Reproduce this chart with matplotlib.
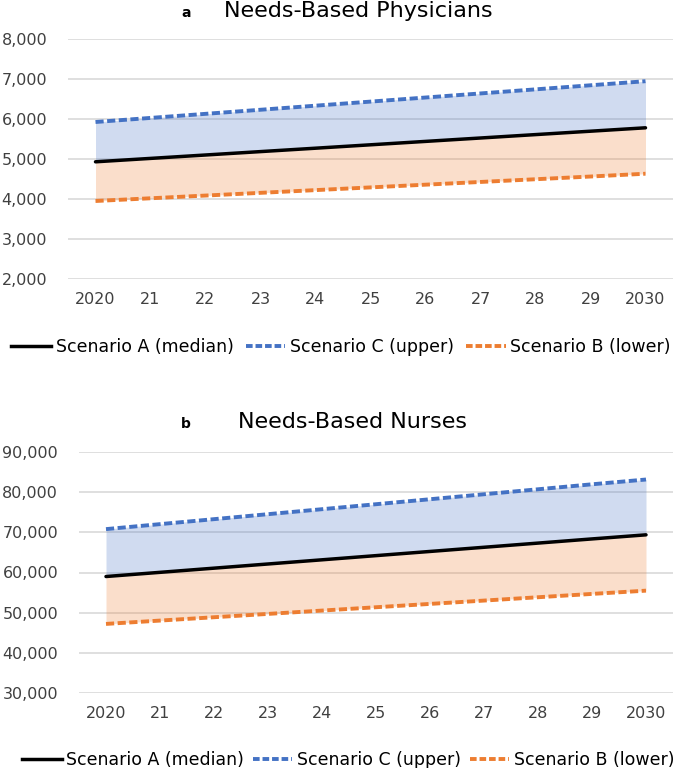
import numpy as np
import matplotlib
matplotlib.use('Agg')
import matplotlib.pyplot as plt
from matplotlib.lines import Line2D

years = [2020, 2021, 2022, 2023, 2024, 2025, 2026, 2027, 2028, 2029, 2030]
year_labels = ['2020', '21', '22', '23', '24', '25', '26', '27', '28', '29', '2030']

# needs-based physicians
phys_a = [4930, 5015, 5100, 5185, 5270, 5355, 5440, 5525, 5610, 5695, 5780]
phys_c = [5925, 6027, 6129, 6231, 6333, 6435, 6537, 6639, 6741, 6843, 6945]
phys_b = [3950, 4018, 4086, 4154, 4222, 4290, 4358, 4426, 4494, 4562, 4632]

# needs-based nurses
nurse_a = [59000, 60040, 61080, 62120, 63160, 64200, 65240, 66280, 67320, 68360, 69380]
nurse_c = [70800, 72040, 73280, 74520, 75760, 77000, 78240, 79480, 80720, 81960, 83150]
nurse_b = [47200, 48030, 48860, 49690, 50520, 51350, 52180, 53010, 53840, 54670, 55480]

BLUE = '#4472C4'
ORANGE = '#ED7D31'
TICK_COL = '#404040'

plt.rcParams['font.family'] = ['DejaVu Sans']


def conf_ax(ax, a, c, b, ylim, yticks):
    ax.fill_between(years, a, c, color=BLUE, alpha=0.25, lw=0, zorder=2)
    ax.fill_between(years, b, a, color=ORANGE, alpha=0.25, lw=0, zorder=2)
    ax.plot(years, c, color=BLUE, lw=2.8, dashes=(2.1, 0.9), zorder=3)
    ax.plot(years, b, color=ORANGE, lw=2.8, dashes=(2.1, 0.9), zorder=3)
    ax.plot(years, a, color='black', lw=2.5, zorder=4, solid_capstyle='round')
    ax.set_xlim(2019.5, 2030.5)
    ax.set_ylim(*ylim)
    ax.set_yticks(yticks)
    ax.set_yticklabels([f'{v:,}' for v in yticks])
    ax.set_xticks(years)
    ax.set_xticklabels(year_labels)
    ax.grid(axis='y', color='#D9D9D9', lw=1.2, zorder=1)
    ax.set_axisbelow(True)
    for s in ax.spines.values():
        s.set_visible(False)
    ax.tick_params(axis='x', length=0, pad=9, labelsize=11.5, labelcolor=TICK_COL)
    ax.tick_params(axis='y', length=0, pad=15, labelsize=11.5, labelcolor=TICK_COL)


fig = plt.figure(figsize=(6.85, 7.68), dpi=100)

ax_top = fig.add_axes([68 / 685, 1 - 279 / 768, 605 / 685, 240 / 768])
conf_ax(ax_top, phys_a, phys_c, phys_b, (2000, 8000), list(range(2000, 8001, 1000)))

ax_bot = fig.add_axes([79 / 685, 1 - 693 / 768, 594 / 685, 241 / 768])
conf_ax(ax_bot, nurse_a, nurse_c, nurse_b, (30000, 90000), list(range(30000, 90001, 10000)))

fig.text(186 / 685, 1 - 16.7 / 768, 'a', fontsize=10, fontweight='bold', ha='center', va='baseline')
fig.text(358 / 685, 1 - 16.7 / 768, 'Needs-Based Physicians', fontsize=16, ha='center', va='baseline')
fig.text(186 / 685, 1 - 428 / 768, 'b', fontsize=10, fontweight='bold', ha='center', va='baseline')
fig.text(353 / 685, 1 - 428 / 768, 'Needs-Based Nurses', fontsize=16, ha='center', va='baseline')

handles = [
    Line2D([], [], color='black', lw=2.5),
    Line2D([], [], color=BLUE, lw=2.8, dashes=(1.7, 0.75)),
    Line2D([], [], color=ORANGE, lw=2.8, dashes=(1.7, 0.75)),
]
labels = ['Scenario A (median)', 'Scenario C (upper)', 'Scenario B (lower)']

for xc, yc, cs in [(341 / 685, 1 - 347 / 768, 0.7), (348 / 685, 1 - 760 / 768, 0.5)]:
    fig.legend(handles, labels, loc='center', bbox_to_anchor=(xc, yc), ncol=3,
               frameon=False, fontsize=12.5, handlelength=2.3, handletextpad=0.25,
               columnspacing=cs, labelcolor='black')

fig.savefig('out.png', dpi=100)
